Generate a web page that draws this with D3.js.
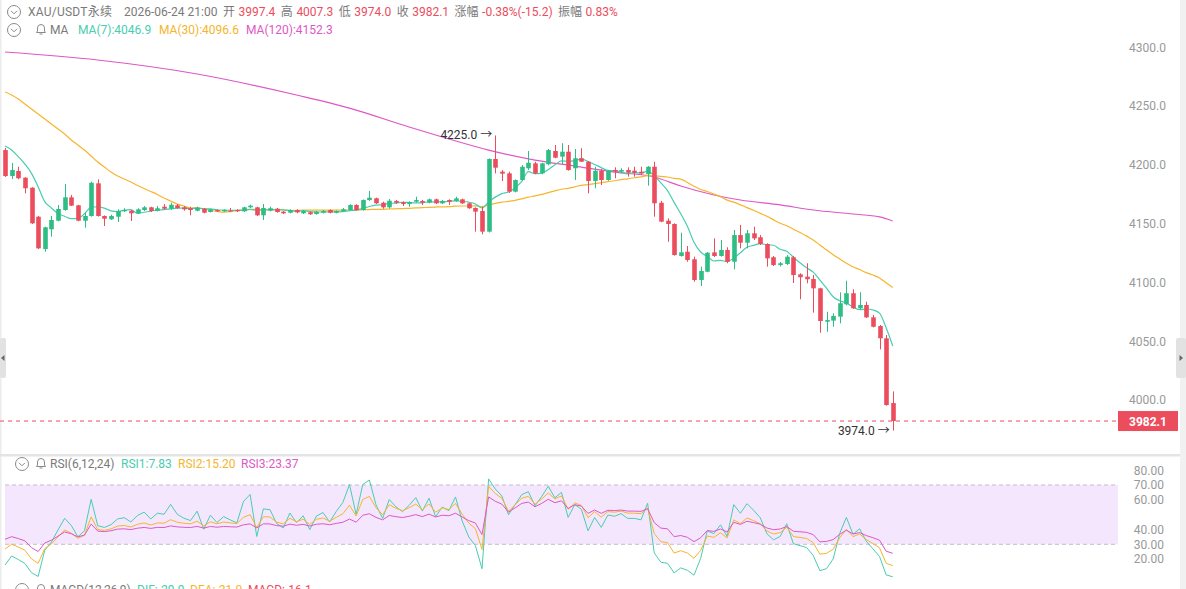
<!DOCTYPE html>
<html>
<head>
<meta charset="utf-8">
<script src="https://cdn.jsdelivr.net/npm/d3@7"></script>
<style>
  body { margin: 0; background: #fff; overflow: hidden; }
  text { font-family: Roboto, "Noto Sans CJK SC", sans-serif; font-size: 12px; }
</style>
</head>
<body>
<div id="chart"></div>
<script>
// OHLC, one entry per candle
var opens = [4212.6,4190.5,4194.8,4189.1,4180.6,4155.9,4128.4,4145.2,4152.5,4161.6,4172.4,4165.6,4152.5,4156.5,4184.3,4156.5,4153.7,4155.9,4160.5,4161.0,
  4158.8,4161.6,4163.9,4160.8,4164.4,4162.7,4165.6,4163.9,4163.1,4161.0,4162.7,4159.9,4161.6,4160.5,4161.1,4161.6,4160.5,4163.9,4163.9,4157.1,
  4161.0,4162.7,4160.2,4159.3,4161.6,4158.8,4159.7,4158.2,4159.3,4161.6,4159.3,4160.5,4161.6,4165.9,4161.6,4170.1,4171.6,4167.8,4163.9,4169.3,
  4168.2,4166.7,4168.7,4169.3,4167.8,4170.7,4167.3,4170.1,4169.3,4170.7,4167.3,4163.3,4160.8,4143.2,4205.0,4194.2,4192.8,4177.2,4187.1,4197.1,
  4201.3,4192.8,4200.5,4211.8,4207.0,4211.2,4197.1,4205.6,4202.7,4186.3,4195.0,4187.1,4195.6,4194.2,4195.6,4195.0,4194.2,4192.0,4198.4,4167.8,
  4152.5,4149.7,4122.5,4126.1,4119.7,4102.1,4109.1,4125.6,4122.5,4127.6,4117.6,4140.3,4133.8,4141.8,4138.4,4132.7,4121.4,4114.8,4115.7,4121.4,
  4106.9,4104.9,4102.9,4095.0,4066.6,4067.5,4070.9,4081.4,4090.8,4078.0,4080.8,4070.3,4062.9,4052.5,3997.4];
var highs = [4214.4,4201.6,4198.4,4189.5,4181.0,4156.5,4147.4,4156.5,4165.9,4183.7,4174.4,4166.0,4159.7,4185.7,4187.7,4157.0,4157.6,4162.2,4163.1,4161.6,
  4163.1,4165.0,4164.4,4165.0,4166.7,4167.8,4166.7,4165.0,4164.4,4164.4,4163.3,4162.7,4162.2,4162.2,4163.3,4162.2,4164.4,4166.1,4164.4,4166.7,
  4164.4,4163.3,4160.8,4162.2,4162.2,4161.6,4160.2,4160.8,4161.6,4162.2,4161.3,4163.3,4166.5,4166.5,4170.6,4177.8,4172.1,4168.7,4171.0,4170.1,
  4169.0,4169.0,4172.9,4170.1,4171.3,4171.3,4170.1,4170.7,4172.9,4171.3,4167.8,4163.9,4164.4,4205.5,4225.0,4195.6,4194.2,4187.6,4199.9,4211.8,
  4202.7,4201.8,4213.5,4216.9,4218.4,4216.9,4213.5,4214.1,4203.2,4198.4,4196.5,4195.6,4197.9,4197.1,4197.9,4198.4,4198.4,4199.0,4202.7,4169.3,
  4154.5,4150.3,4142.3,4131.0,4121.9,4113.4,4125.8,4137.5,4136.1,4129.9,4144.6,4148.9,4144.6,4147.4,4140.3,4133.3,4122.5,4117.4,4123.3,4122.5,
  4107.8,4116.3,4106.3,4095.5,4075.1,4073.7,4091.6,4101.5,4094.2,4091.6,4083.6,4072.3,4063.8,4055.3,4007.3];
var lows = [4189.7,4188.0,4187.7,4175.8,4149.7,4128.4,4126.1,4138.9,4152.0,4161.0,4165.0,4152.0,4146.6,4156.0,4156.0,4148.0,4153.2,4151.4,4159.9,4152.3,
  4158.2,4160.8,4159.9,4160.4,4162.2,4161.6,4162.5,4161.0,4157.1,4160.5,4158.8,4159.5,4160.0,4160.0,4159.9,4159.9,4160.0,4163.3,4156.5,4153.1,
  4160.5,4159.3,4158.2,4158.8,4158.8,4158.2,4157.4,4157.6,4158.8,4158.8,4158.8,4159.9,4161.0,4161.0,4161.0,4169.2,4166.7,4162.7,4162.7,4166.7,
  4165.0,4164.4,4167.8,4165.9,4167.3,4166.7,4166.7,4165.9,4168.7,4166.7,4162.7,4143.2,4140.9,4142.5,4192.8,4186.3,4176.1,4176.6,4186.3,4195.6,
  4192.0,4192.0,4199.6,4205.6,4200.5,4195.1,4187.1,4202.4,4175.8,4180.1,4182.9,4186.5,4188.6,4193.1,4190.0,4190.0,4191.4,4182.3,4155.9,4151.2,
  4134.6,4122.8,4122.0,4117.6,4100.6,4097.0,4108.6,4121.6,4122.0,4116.3,4111.2,4129.0,4129.0,4136.1,4131.8,4113.4,4114.0,4113.6,4114.8,4099.5,
  4085.7,4099.3,4074.3,4057.2,4058.1,4062.3,4065.2,4080.5,4077.5,4076.6,4069.8,4061.7,4043.1,3995.2,3974.0];
var closes = [4190.5,4195.6,4188.6,4180.1,4150.3,4129.0,4146.9,4153.1,4162.5,4172.4,4165.3,4152.5,4156.5,4184.8,4156.5,4154.2,4156.5,4160.8,4161.6,4158.8,
  4162.2,4163.9,4160.8,4163.1,4162.7,4166.1,4163.3,4162.2,4161.6,4163.6,4159.3,4162.2,4160.5,4161.6,4161.0,4160.5,4163.9,4165.3,4157.1,4163.3,
  4163.1,4159.9,4158.8,4161.6,4159.6,4160.8,4158.0,4160.2,4160.8,4159.3,4160.8,4162.2,4165.9,4161.6,4170.1,4172.1,4167.3,4163.9,4169.5,4167.8,
  4166.7,4168.2,4170.1,4167.8,4170.7,4167.3,4169.3,4168.7,4171.5,4167.3,4163.1,4160.2,4143.2,4205.0,4197.6,4192.5,4177.2,4187.1,4198.4,4201.8,
  4192.8,4201.3,4212.6,4206.1,4211.2,4195.6,4205.6,4202.7,4186.3,4195.0,4187.1,4195.0,4194.2,4195.6,4193.3,4193.3,4192.8,4198.4,4167.3,4151.7,
  4149.7,4123.3,4125.6,4119.1,4102.1,4109.7,4125.3,4122.5,4127.6,4117.6,4140.3,4133.8,4141.8,4137.5,4132.7,4120.5,4114.8,4116.3,4121.9,4106.3,
  4104.4,4102.7,4095.0,4067.2,4068.0,4071.5,4082.3,4090.8,4078.0,4080.8,4070.3,4062.3,4052.5,3995.7,3982.1];

var ma7Head = [4216.0,4212.6,4207.0,4200.7,4192.8,4181.4];
var ma30Head = [4262.0,4259.5,4256.1,4251.8,4247.5,4243.3,4239.0,4234.8,4230.5,4226.3,4221.2,4216.9,4212.6,4207.5,4202.4,
  4198.2,4193.9,4190.5,4188.0,4185.4,4182.5,4179.9,4177.4,4174.8,4171.8,4169.3,4166.7,4165.0,4163.3];
var ma120Candle = [1,15,30,45,53,62,67,74,81,87,93,99,103,108,112,118,123,129,133,135];
var ma120Value = [4296.0,4289.2,4277.3,4259.4,4248.3,4232.2,4223.7,4212.6,4204.1,4199.0,4193.9,4189.7,4182.0,4174.4,4170.1,4165.9,4161.6,4158.2,4155.7,4152.3];

// RSI(6,12,24) smoothing state at the first visible candle
var rsiPeriods = [6, 12, 24];
var rsiSeedGain = [2.08, 2.68, 2.67];
var rsiSeedLoss = [10.92, 7.32, 5.33];

var priceTicks = [4000, 4050, 4100, 4150, 4200, 4250, 4300];
var rsiTicks = [20, 30, 40, 60, 70, 80];

var red = "#eb4d5c", green = "#2ebd85", gray = "#7a7a7a";
var maColors = ["#48cdb0", "#f6b52c", "#dd58c6"];

var svg = d3.select("#chart").append("svg")
  .attr("width", 1186)
  .attr("height", 589);

var x = d3.scaleLinear().domain([0, closes.length - 1]).range([5, 892.75]);
var y = d3.scaleLinear().domain([4000, 4300]).range([400, 47.3]);
var yRsi = d3.scaleLinear().domain([0, 100]).range([588.8, 440.5]);

// frame bits
svg.append("rect").attr("x", 0).attr("y", 0).attr("width", 1.5).attr("height", 589).attr("fill", "#ececec");
svg.append("rect").attr("x", 1180).attr("y", 0).attr("width", 6).attr("height", 589).attr("fill", "#f1f1f1");
svg.append("rect").attr("x", 0).attr("y", 454).attr("width", 1180).attr("height", 2.5).attr("fill", "#e4e4e4");

// axes
var priceAxis = d3.axisLeft(y).tickValues(priceTicks).tickSize(0).tickPadding(0).tickFormat(d3.format(".1f"));
svg.append("g").attr("transform", "translate(1166,0)").call(priceAxis)
  .call(g => g.select(".domain").remove())
  .selectAll("text").attr("fill", "#999").style("font-size", "12px");

var rsiAxis = d3.axisLeft(yRsi).tickValues(rsiTicks).tickSize(0).tickPadding(0).tickFormat(d3.format(".2f"));
svg.append("g").attr("transform", "translate(1164,0)").call(rsiAxis)
  .call(g => g.select(".domain").remove())
  .selectAll("text").attr("fill", "#999").style("font-size", "12px");

// moving averages
function sma(n, head) {
  return closes.map(function(c, i) {
    if (i < n - 1) return head[i];
    return d3.mean(closes.slice(i - n + 1, i + 1));
  });
}
var ma7 = sma(7, ma7Head);
var ma30 = sma(30, ma30Head);

var maLine = d3.line()
  .x((d, i) => x(i))
  .y(d => y(d))
  .curve(d3.curveMonotoneX);

svg.append("path").datum(ma120Value)
  .attr("d", d3.line().x((d, i) => x(ma120Candle[i] - 1)).y(d => y(d)).curve(d3.curveMonotoneX))
  .attr("fill", "none").attr("stroke", maColors[2]).attr("stroke-width", 1.2);
svg.append("path").datum(ma30).attr("d", maLine)
  .attr("fill", "none").attr("stroke", maColors[1]).attr("stroke-width", 1.2);
svg.append("path").datum(ma7).attr("d", maLine)
  .attr("fill", "none").attr("stroke", maColors[0]).attr("stroke-width", 1.2);

// candles
var candles = svg.append("g").selectAll("g")
  .data(closes)
  .enter()
  .append("g")
  .attr("fill", (d, i) => d >= opens[i] ? green : red)
  .attr("stroke", (d, i) => d >= opens[i] ? green : red);

candles.append("line")
  .attr("x1", (d, i) => Math.round(x(i)) + 0.5)
  .attr("x2", (d, i) => Math.round(x(i)) + 0.5)
  .attr("y1", (d, i) => y(highs[i]))
  .attr("y2", (d, i) => y(lows[i]))
  .attr("stroke-width", 1);

candles.append("rect")
  .attr("x", (d, i) => Math.round(x(i)) + 0.5 - 2.3)
  .attr("y", (d, i) => y(Math.max(d, opens[i])))
  .attr("width", 4.6)
  .attr("height", (d, i) => Math.max(1, Math.abs(y(d) - y(opens[i]))))
  .attr("stroke", "none");

// last price line + tag
var last = closes[closes.length - 1];
svg.append("line")
  .attr("x1", 0).attr("x2", 1118)
  .attr("y1", y(last)).attr("y2", y(last))
  .attr("stroke", red).attr("stroke-dasharray", "4,4");
svg.append("rect")
  .attr("x", 1118).attr("y", y(last) - 10).attr("width", 60).attr("height", 20)
  .attr("fill", red);
svg.append("text")
  .attr("x", 1148).attr("y", y(last) + 4.5)
  .attr("text-anchor", "middle").attr("fill", "#fff").attr("font-weight", "bold")
  .text(last.toFixed(1));

// high / low markers
var hiIdx = d3.maxIndex(highs), loIdx = d3.minIndex(lows);
svg.append("text")
  .attr("x", x(hiIdx) - 3).attr("y", y(highs[hiIdx]) + 4)
  .attr("text-anchor", "end").attr("fill", "#333")
  .text(highs[hiIdx].toFixed(1) + " \u2192");
svg.append("text")
  .attr("x", x(loIdx) - 3).attr("y", y(lows[loIdx]) + 4)
  .attr("text-anchor", "end").attr("fill", "#333")
  .text(lows[loIdx].toFixed(1) + " \u2192");

// RSI pane
svg.append("rect")
  .attr("x", 5).attr("width", 1113)
  .attr("y", yRsi(70)).attr("height", yRsi(30) - yRsi(70))
  .attr("fill", "#f4e7fd");
[70, 30].forEach(function(v) {
  svg.append("line")
    .attr("x1", 5).attr("x2", 1118)
    .attr("y1", yRsi(v)).attr("y2", yRsi(v))
    .attr("stroke", "#c4bccb").attr("stroke-dasharray", "4,3");
});

function rsi(n, g, l) {
  return closes.map(function(c, i) {
    if (i > 0) {
      var diff = c - closes[i - 1];
      g = (g * (n - 1) + Math.max(diff, 0)) / n;
      l = (l * (n - 1) + Math.max(-diff, 0)) / n;
    }
    return 100 * g / (g + l);
  });
}

var rsiLine = d3.line().x((d, i) => x(i)).y(d => yRsi(d));
rsiPeriods.forEach(function(n, k) {
  svg.append("path").datum(rsi(n, rsiSeedGain[k], rsiSeedLoss[k]))
    .attr("d", rsiLine)
    .attr("fill", "none").attr("stroke", maColors[k]).attr("stroke-width", 1);
});

// legends
function icon(cx, cy) {
  svg.append("circle").attr("cx", cx).attr("cy", cy).attr("r", 6.5)
    .attr("fill", "none").attr("stroke", "#8a8a8a").attr("stroke-width", 1);
  svg.append("path").attr("d", `M${cx - 3},${cy - 1.2}L${cx},${cy + 1.8}L${cx + 3},${cy - 1.2}`)
    .attr("fill", "none").attr("stroke", "#8a8a8a").attr("stroke-width", 1);
}
function bell(cx, cy) {
  svg.append("path")
    .attr("d", `M${cx - 4.5},${cy + 3}L${cx - 3.5},${cy + 1.5}L${cx - 3.5},${cy - 1.5}A3.5,3.5 0 0 1 ${cx + 3.5},${cy - 1.5}L${cx + 3.5},${cy + 1.5}L${cx + 4.5},${cy + 3}Z M${cx - 1.5},${cy + 4.5}L${cx + 1.5},${cy + 4.5}`)
    .attr("fill", "none").attr("stroke", "#8a8a8a").attr("stroke-width", 1);
}
function label(xp, yp, txt, color) {
  return svg.append("text").attr("x", xp).attr("y", yp).attr("fill", color).text(txt);
}

var headerLabels = ["开", "高", "低", "收", "涨幅", "振幅"];
var headerValues = ["3997.4", "4007.3", "3974.0", "3982.1", "-0.38%(-15.2)", "0.83%"];
icon(14, 12);
label(28, 16, "XAU/USDT永续", gray)
  .attr("textLength", 84).attr("lengthAdjust", "spacing");
var stats = svg.append("text").attr("x", 124).attr("y", 16);
stats.append("tspan").attr("fill", gray).text("2026-06-24 21:00");
headerLabels.forEach(function(t, i) {
  stats.append("tspan").attr("dx", 5.5).attr("fill", gray).text(t);
  stats.append("tspan").attr("dx", 3.5).attr("fill", red).text(headerValues[i]);
});

var maLegend = ["MA(7):4046.9", "MA(30):4096.6", "MA(120):4152.3"];
icon(14, 30);
bell(41, 29.5);
label(50, 34, "MA", gray);
[78, 159, 246].forEach((p, i) => label(p, 34, maLegend[i], maColors[i]));

var rsiLegend = ["RSI1:7.83", "RSI2:15.20", "RSI3:23.37"];
icon(22, 464);
bell(41, 463.5);
label(50, 468, "RSI(6,12,24)", gray);
[121, 178, 241].forEach((p, i) => label(p, 468, rsiLegend[i], maColors[i]));

var macdLegend = ["DIF:-29.9", "DEA:-21.0", "MACD:-16.1"];
icon(22, 590);
bell(41, 589.5);
label(50, 594, "MACD(12,26,9)", gray);
[137, 190, 248].forEach((p, i) => label(p, 594, macdLegend[i], i == 2 ? red : maColors[i]));

// side tabs
svg.append("rect").attr("x", 0).attr("y", 338).attr("width", 6).attr("height", 40).attr("rx", 2).attr("fill", "#e2e2e2");
svg.append("path").attr("d", "M1,358L4.5,355L4.5,361Z").attr("fill", "#666");
svg.append("rect").attr("x", 1176).attr("y", 338).attr("width", 10).attr("height", 40).attr("rx", 2).attr("fill", "#e2e2e2");
svg.append("path").attr("d", "M1183,358L1179.5,355L1179.5,361Z").attr("fill", "#666");
</script>
</body>
</html>
